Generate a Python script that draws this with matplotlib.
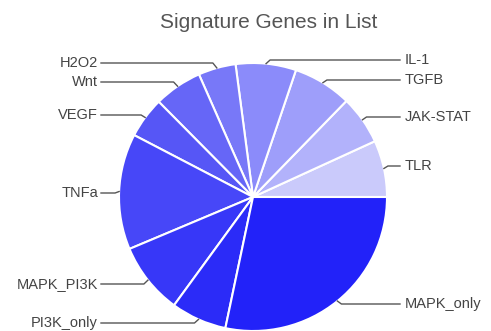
import numpy as np
import matplotlib.pyplot as plt

plt.rcParams['font.family'] = ['Liberation Sans', 'DejaVu Sans']

# Data (slice sizes, in degrees of arc)
labels = ["TLR", "JAK-STAT", "TGFB", "IL-1", "H2O2", "Wnt", "VEGF",
          "TNFa", "MAPK_PI3K", "PI3K_only", "MAPK_only"]
values = [24.6, 21.2, 25.5, 26.2, 16.3, 20.9, 17.8, 50.3, 31.1, 24.2, 101.9]
colors = ["#cacafb", "#b2b2fb", "#9e9efa", "#8b8bfa", "#7878f8", "#6666f7",
          "#5656f6", "#4747f8", "#3737f8", "#2b2bf8", "#2222f9"]
label_y = [166, 117, 80, 60, 63, 82, 115, 193, 284, 323, 304]  # pixel rows, from top

W, H = 491, 331
fig = plt.figure(figsize=(W / 100, H / 100), dpi=100)
ax = fig.add_axes([0, 0, 1, 1])
ax.set_xlim(0, W)
ax.set_ylim(0, H)
ax.set_aspect("equal")
ax.axis("off")

cx, cy, r = 253, H - 197, 134
wedges, _ = ax.pie(values, colors=colors, startangle=0, counterclock=True,
                   center=(cx, cy), radius=r, frame=True,
                   wedgeprops=dict(edgecolor="white", linewidth=1.5))
ax.set_xlim(0, W)
ax.set_ylim(0, H)
ax.axis("off")

# leader lines and labels
for w, lab, ly in zip(wedges, labels, label_y):
    ang = np.deg2rad((w.theta1 + w.theta2) / 2)
    px, py = cx + r * np.cos(ang), cy + r * np.sin(ang)
    yy = H - ly
    if np.cos(ang) >= 0:
        ex, ey = px + 4, yy
        ax.plot([px, ex, 400], [py, ey, ey], color="#555555", lw=1)
        ax.text(405, ey, lab, ha="left", va="center", fontsize=10.5, color="#444444")
    else:
        ex, ey = px - 4, yy
        ax.plot([px, ex, 101], [py, ey, ey], color="#555555", lw=1)
        ax.text(98, ey, lab, ha="right", va="center", fontsize=10.5, color="#444444")

ax.text(269, H - 22, "Signature Genes in List", ha="center", va="center",
        fontsize=15, color="#555555")

fig.savefig("out.png", dpi=100)
